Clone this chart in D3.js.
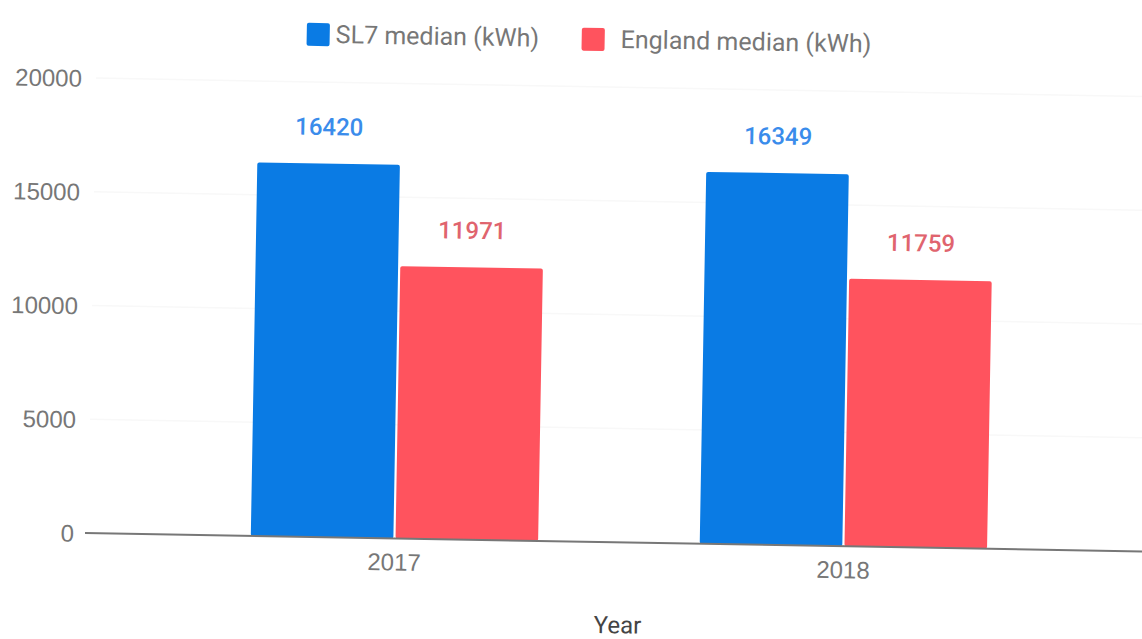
<!DOCTYPE html>
<html>
<head>
<meta charset="utf-8">
<script src="https://cdn.jsdelivr.net/npm/d3@7"></script>
<style>
  html, body { margin: 0; padding: 0; background: #fff; }
  svg { display: block; font-family: Roboto, "Noto Sans", sans-serif; }
</style>
</head>
<body>
<svg id="chart" width="1142" height="639"></svg>
<script>
// Median annual gas consumption, SL7 postcode district vs England
const years = ["2017", "2018"];
const seriesNames = ["SL7 median (kWh)", "England median (kWh)"];
const sl7Median = [16420, 16349];
const englandMedian = [11971, 11759];
const yTicks = [0, 5000, 10000, 15000, 20000];
const xTitle = "Year";

const barColors = ["#0a7be4", "#ff535e"];
const labelColors = ["#3a8ceb", "#e0646e"];

const rows = years.map((y, i) => ({ year: y, values: [sl7Median[i], englandMedian[i]] }));

const svg = d3.select("#chart");
const base = { x: 85, y: 533 };
// whole chart sits at a slight clockwise tilt
const g = svg.append("g").attr("transform", `rotate(1, ${base.x}, ${base.y})`);

const y = d3.scaleLinear().domain([0, 20000]).range([533, 78]);
const x0 = d3.scaleBand().domain(years).range([170, 1068]).paddingInner(0.36).paddingOuter(0.18);
const x1 = d3.scaleBand().domain([0, 1]).range([0, x0.bandwidth()]).paddingInner(0.015);

// very faint gridlines
g.append("g").selectAll("line").data(yTicks.filter(t => t > 0)).join("line")
  .attr("x1", 88).attr("x2", 1160)
  .attr("y1", d => y(d)).attr("y2", d => y(d))
  .attr("stroke", "#f8f8f8").attr("stroke-width", 1.5);

// y axis tick labels
const yAxis = d3.axisLeft(y).tickValues(yTicks).tickSize(0).tickPadding(0).tickFormat(d3.format("d"));
const ya = g.append("g").attr("transform", "translate(74,0)").call(yAxis);
ya.select(".domain").remove();
ya.selectAll("text").attr("fill", "#777").attr("font-size", 24).attr("dy", "0.35em");

// bars
const groups = g.append("g").selectAll("g").data(rows).join("g")
  .attr("transform", d => `translate(${x0(d.year)},0)`);
groups.selectAll("rect").data(d => d.values.map((v, i) => ({ v, i }))).join("rect")
  .attr("x", d => x1(d.i))
  .attr("width", x1.bandwidth())
  .attr("y", d => y(d.v))
  .attr("height", d => y(0) - y(d.v))
  .attr("rx", 2)
  .attr("fill", d => barColors[d.i]);

// value labels
groups.selectAll("text").data(d => d.values.map((v, i) => ({ v, i }))).join("text")
  .attr("x", d => x1(d.i) + x1.bandwidth() / 2)
  .attr("y", d => y(d.v) - 37)
  .attr("dy", "0.35em")
  .attr("text-anchor", "middle")
  .attr("font-size", 24)
  .attr("font-weight", 500)
  .attr("fill", d => labelColors[d.i])
  .text(d => d.v);

// baseline and x axis labels
g.append("line").attr("x1", 85).attr("x2", 1170).attr("y1", y(0)).attr("y2", y(0))
  .attr("stroke", "#777").attr("stroke-width", 2);
const xAxis = d3.axisBottom(x0).tickSize(0).tickPadding(0);
const xa = g.append("g").attr("transform", `translate(0,${y(0)})`).call(xAxis);
xa.select(".domain").remove();
xa.selectAll("text").attr("fill", "#777").attr("font-size", 24).attr("dy", 0).attr("y", 32);

// axis title
g.append("text").attr("x", 619).attr("y", 624).attr("text-anchor", "middle")
  .attr("font-size", 24).attr("fill", "#444").text(xTitle);

// legend
const legendPos = [{ sx: 298, tx: 327 }, { sx: 573, tx: 612 }];
const lg = g.append("g").selectAll("g").data(seriesNames).join("g");
lg.append("rect")
  .attr("x", (d, i) => legendPos[i].sx).attr("y", 19)
  .attr("width", 23).attr("height", 23).attr("rx", 2)
  .attr("fill", (d, i) => barColors[i]);
lg.append("text")
  .attr("x", (d, i) => legendPos[i].tx).attr("y", 30).attr("dy", "0.35em")
  .attr("font-size", 25).attr("fill", "#777")
  .text(d => d);
</script>
</body>
</html>
